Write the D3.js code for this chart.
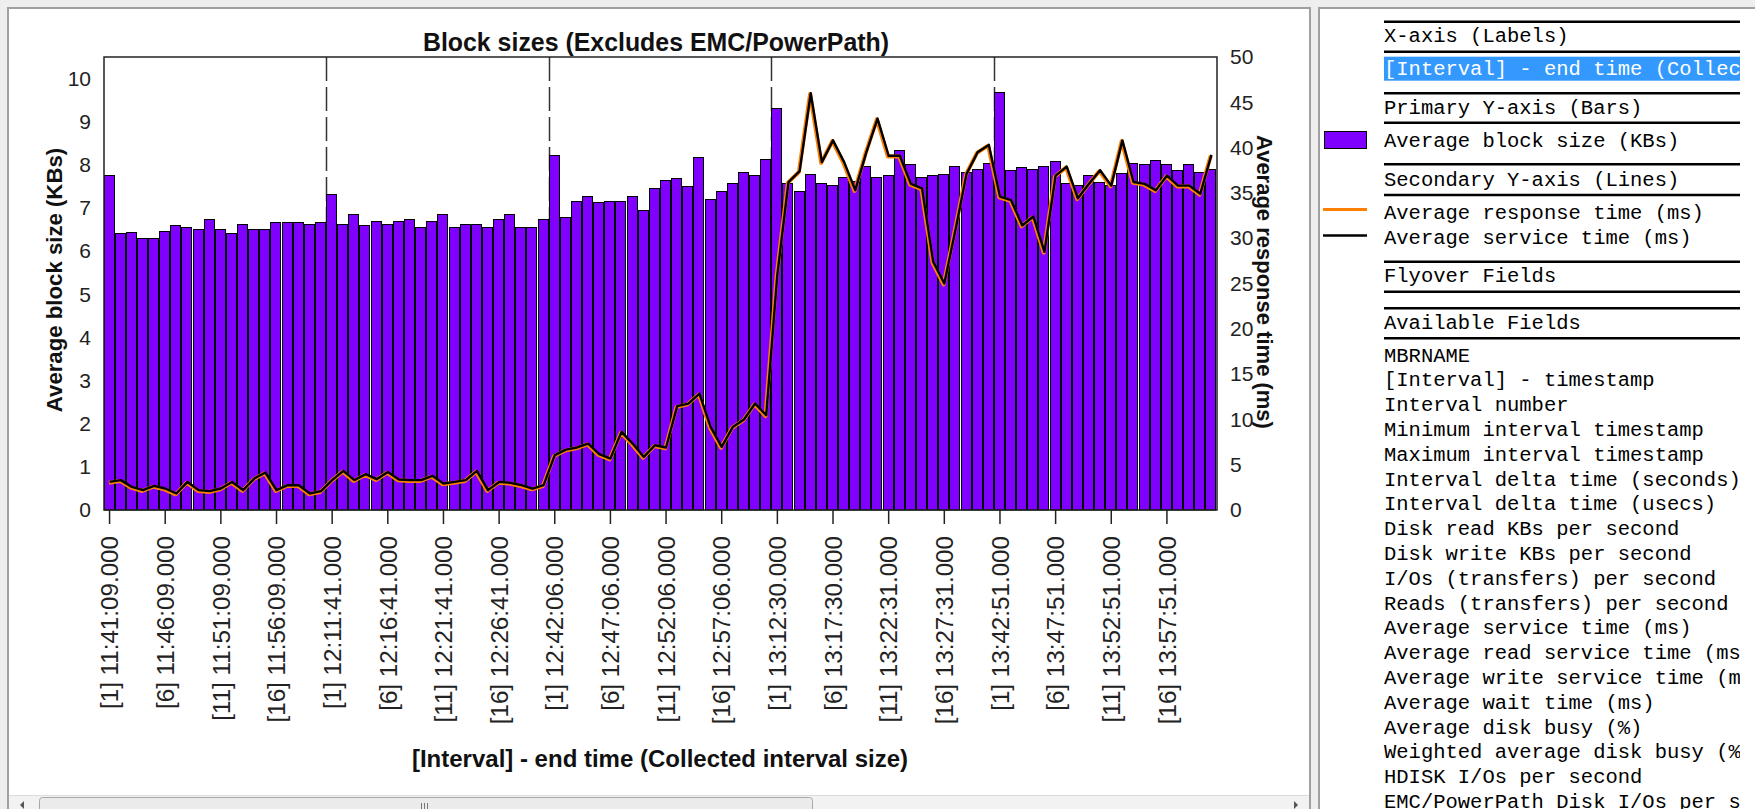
<!DOCTYPE html>
<html>
<head>
<meta charset="utf-8">
<script src="https://cdn.jsdelivr.net/npm/d3@7/dist/d3.min.js"></script>
<style>
  html, body { margin: 0; padding: 0; background: #eeeeee; overflow: hidden; }
  svg { display: block; }
</style>
</head>
<body>
<svg id="view" width="1755" height="809"></svg>
<script>
// ---- data ---------------------------------------------------------------
// Labels shown on every 5th interval: [interval number] end time
const tickLabels = [
  "[1] 11:41:09.000", "[6] 11:46:09.000", "[11] 11:51:09.000", "[16] 11:56:09.000",
  "[1] 12:11:41.000", "[6] 12:16:41.000", "[11] 12:21:41.000", "[16] 12:26:41.000",
  "[1] 12:42:06.000", "[6] 12:47:06.000", "[11] 12:52:06.000", "[16] 12:57:06.000",
  "[1] 13:12:30.000", "[6] 13:17:30.000", "[11] 13:22:31.000", "[16] 13:27:31.000",
  "[1] 13:42:51.000", "[6] 13:47:51.000", "[11] 13:52:51.000", "[16] 13:57:51.000"
];

// First interval of each new collection (dashed separators)
const collectionStarts = [20, 40, 60, 80];

// Average block size (KBs) per interval
const blockSizeKB = [
  7.76, 6.43, 6.45, 6.31, 6.31, 6.46, 6.60, 6.56, 6.52, 6.74,
  6.52, 6.43, 6.64, 6.52, 6.52, 6.67, 6.67, 6.67, 6.64, 6.67,
  7.33, 6.64, 6.86, 6.60, 6.70, 6.64, 6.70, 6.74, 6.56, 6.70,
  6.86, 6.56, 6.63, 6.63, 6.56, 6.74, 6.86, 6.56, 6.56, 6.74,
  8.23, 6.78, 7.17, 7.28, 7.13, 7.17, 7.17, 7.28, 6.96, 7.46,
  7.65, 7.69, 7.51, 8.19, 7.21, 7.39, 7.58, 7.83, 7.76, 8.13,
  9.32, 7.58, 7.39, 7.79, 7.57, 7.54, 7.72, 7.62, 7.98, 7.72,
  7.76, 8.34, 8.01, 7.72, 7.76, 7.79, 7.98, 7.83, 7.91, 8.05,
  9.68, 7.87, 7.94, 7.91, 7.98, 8.08, 7.57, 7.54, 7.76, 7.61,
  7.54, 7.80, 8.05, 8.01, 8.12, 8.01, 7.87, 8.01, 7.83, 7.91
];

// Average response time (ms) per interval
const responseTimeMs = [
  3.1, 3.3, 2.55, 2.19, 2.66, 2.37, 1.82, 3.1, 2.19, 2.08,
  2.37, 3.1, 2.19, 3.47, 4.14, 2.19, 2.74, 2.74, 1.82, 2.08,
  3.3, 4.32, 3.3, 3.95, 3.4, 4.2, 3.36, 3.3, 3.3, 3.77,
  2.92, 3.1, 3.3, 4.32, 2.19, 3.1, 3.0, 2.74, 2.37, 2.74,
  6.05, 6.66, 6.9, 7.33, 6.16, 5.68, 8.62, 7.33, 5.86, 7.15,
  6.9, 11.46, 11.75, 12.85, 9.17, 6.97, 9.17, 9.99, 11.75, 10.46,
  26.0, 36.2, 37.4, 46.0, 38.4, 40.8, 38.4, 35.3, 39.5, 43.2,
  39.1, 39.1, 36.0, 35.5, 27.4, 25.0, 30.9, 37.1, 39.5, 40.3,
  34.6, 34.2, 31.4, 32.4, 28.5, 36.9, 37.9, 34.4, 36.0, 37.5,
  35.8, 40.8, 36.2, 36.0, 35.3, 36.9, 35.8, 35.8, 34.9, 39.2
];

// Average service time (ms) per interval
const serviceTimeMs = [
  3.1, 3.3, 2.55, 2.19, 2.66, 2.37, 1.82, 3.1, 2.19, 2.08,
  2.37, 3.1, 2.19, 3.47, 4.14, 2.19, 2.74, 2.74, 1.82, 2.08,
  3.3, 4.32, 3.3, 3.95, 3.4, 4.2, 3.36, 3.3, 3.3, 3.77,
  2.92, 3.1, 3.3, 4.32, 2.19, 3.1, 3.0, 2.74, 2.37, 2.74,
  6.05, 6.66, 6.9, 7.33, 6.16, 5.68, 8.62, 7.33, 5.86, 7.15,
  6.9, 11.46, 11.75, 12.85, 9.17, 6.97, 9.17, 9.99, 11.75, 10.46,
  26.0, 36.2, 37.4, 46.0, 38.4, 40.8, 38.4, 35.3, 39.5, 43.2,
  39.1, 39.1, 36.0, 35.5, 27.4, 25.0, 30.9, 37.1, 39.5, 40.3,
  34.6, 34.2, 31.4, 32.4, 28.5, 36.9, 37.9, 34.4, 36.0, 37.5,
  35.8, 40.8, 36.2, 36.0, 35.3, 36.9, 35.8, 35.8, 34.9, 39.2
];

const leftTicks = [0, 1, 2, 3, 4, 5, 6, 7, 8, 9, 10];
const rightTicks = [0, 5, 10, 15, 20, 25, 30, 35, 40, 45, 50];

const availableFields = [
  "MBRNAME", "[Interval] - timestamp", "Interval number",
  "Minimum interval timestamp", "Maximum interval timestamp",
  "Interval delta time (seconds)", "Interval delta time (usecs)",
  "Disk read KBs per second", "Disk write KBs per second",
  "I/Os (transfers) per second", "Reads (transfers) per second",
  "Average service time (ms)", "Average read service time (ms)",
  "Average write service time (ms)", "Average wait time (ms)",
  "Average disk busy (%)", "Weighted average disk busy (%)",
  "HDISK I/Os per second", "EMC/PowerPath Disk I/Os per second"
];

// ---- drawing ------------------------------------------------------------
const W = 1755, H = 809;
const BAR_COLOR = "#8000ff", RESP_COLOR = "#ff8000";
const SANS = "'Liberation Sans', Arial, sans-serif";
const MONO = "'Liberation Mono', 'Courier New', monospace";

const svg = d3.select("#view");

// window chrome: grey backdrop with two white panels
svg.append("rect").attr("width", W).attr("height", H).attr("fill", "#eeeeee");
svg.append("rect").attr("x", 8).attr("y", 8).attr("width", 1302).attr("height", H)
  .attr("fill", "#fff").attr("stroke", "#a0a0a0").attr("stroke-width", 2);
svg.append("rect").attr("x", 1319).attr("y", 8).attr("width", W).attr("height", H)
  .attr("fill", "#fff").attr("stroke", "#a0a0a0").attr("stroke-width", 2);

const plot = { left: 104, right: 1217, top: 57, bottom: 510 };

const x = d3.scaleBand()
  .domain(d3.range(blockSizeKB.length))
  .range([plot.left, plot.right])
  .padding(0);
const yLeft = d3.scaleLinear().domain([0, 10.5]).range([plot.bottom, plot.top]);
const yRight = d3.scaleLinear().domain([0, 50]).range([plot.bottom, plot.top]);

const chart = svg.append("g");

// title
chart.append("text")
  .attr("x", 656).attr("y", 51)
  .attr("text-anchor", "middle")
  .attr("font-family", SANS).attr("font-weight", "bold").attr("font-size", 24.9)
  .attr("fill", "#111")
  .text("Block sizes (Excludes EMC/PowerPath)");

// collection separators (behind bars)
chart.append("g").selectAll("line")
  .data(collectionStarts)
  .join("line")
  .attr("x1", d => Math.floor(x(d)) + 0.5)
  .attr("x2", d => Math.floor(x(d)) + 0.5)
  .attr("y1", plot.top).attr("y2", plot.bottom)
  .attr("stroke", "#333").attr("stroke-width", 1.5)
  .attr("stroke-dasharray", "24,6");

// bars
chart.append("g").selectAll("rect")
  .data(blockSizeKB)
  .join("rect")
  .attr("x", (d, i) => Math.floor(x(i)) + 0.5)
  .attr("y", d => Math.round(yLeft(d)) + 0.5)
  .attr("width", 10)
  .attr("height", d => plot.bottom - Math.round(yLeft(d)) - 0.5)
  .attr("fill", BAR_COLOR)
  .attr("stroke", "#000").attr("stroke-width", 1);

// lines on the secondary axis
const lineGen = d3.line()
  .x((d, i) => x(i) + x.bandwidth() / 2)
  .y(d => yRight(d));

chart.append("path")
  .datum(responseTimeMs)
  .attr("d", lineGen)
  .attr("transform", "translate(-0.7,0.8)")
  .attr("fill", "none").attr("stroke", RESP_COLOR)
  .attr("stroke-width", 4).attr("stroke-linejoin", "round");

chart.append("path")
  .datum(serviceTimeMs)
  .attr("d", lineGen)
  .attr("fill", "none").attr("stroke", "#000")
  .attr("stroke-width", 2.4).attr("stroke-linejoin", "round");

// plot frame
chart.append("rect")
  .attr("x", plot.left).attr("y", plot.top)
  .attr("width", plot.right - plot.left).attr("height", plot.bottom - plot.top)
  .attr("fill", "none").attr("stroke", "#222").attr("stroke-width", 1.5);

// left axis
const gLeft = chart.append("g")
  .attr("transform", `translate(${plot.left},0)`)
  .call(d3.axisLeft(yLeft).tickValues(leftTicks).tickSize(0).tickPadding(13));
gLeft.select(".domain").remove();
gLeft.selectAll("text")
  .attr("font-family", SANS).attr("font-size", 21).attr("fill", "#222");

// right axis
const gRight = chart.append("g")
  .attr("transform", `translate(${plot.right},0)`)
  .call(d3.axisRight(yRight).tickValues(rightTicks).tickSize(0).tickPadding(13));
gRight.select(".domain").remove();
gRight.selectAll("text")
  .attr("font-family", SANS).attr("font-size", 21).attr("fill", "#222");

// bottom axis: ticks every 5 intervals, labels rotated
const gBottom = chart.append("g")
  .attr("transform", `translate(0,${plot.bottom})`)
  .call(d3.axisBottom(x)
    .tickValues(d3.range(0, blockSizeKB.length, 5))
    .tickFormat(i => tickLabels[i / 5])
    .tickSize(14));
gBottom.select(".domain").remove();
gBottom.selectAll(".tick line").attr("stroke", "#222").attr("stroke-width", 1.5);
gBottom.selectAll("text")
  .attr("transform", "rotate(-90)")
  .attr("x", -26).attr("y", 0).attr("dy", "0.36em")
  .attr("text-anchor", "end")
  .attr("font-family", SANS).attr("font-size", 24.2).attr("fill", "#222");

// axis titles
chart.append("text")
  .attr("transform", "translate(62,280) rotate(-90)")
  .attr("text-anchor", "middle")
  .attr("font-family", SANS).attr("font-weight", "bold").attr("font-size", 22.2)
  .attr("fill", "#111")
  .text("Average block size (KBs)");

chart.append("text")
  .attr("transform", "translate(1257,282) rotate(90)")
  .attr("text-anchor", "middle")
  .attr("font-family", SANS).attr("font-weight", "bold").attr("font-size", 22)
  .attr("fill", "#111")
  .text("Average response time (ms)");

chart.append("text")
  .attr("x", 660).attr("y", 767)
  .attr("text-anchor", "middle")
  .attr("font-family", SANS).attr("font-weight", "bold").attr("font-size", 24)
  .attr("fill", "#111")
  .text("[Interval] - end time (Collected interval size)");

// horizontal scrollbar of the chart panel
const sb = svg.append("g");
sb.append("rect").attr("x", 9).attr("y", 795).attr("width", 1300).attr("height", 20)
  .attr("fill", "#f2f2f2");
sb.append("line").attr("x1", 9).attr("x2", 1309).attr("y1", 795.5).attr("y2", 795.5)
  .attr("stroke", "#dcdcdc");
sb.append("path").attr("d", "M20,805 L24,801 L24,809 Z").attr("fill", "#555");
sb.append("path").attr("d", "M1298,805 L1294,801 L1294,809 Z").attr("fill", "#555");
sb.append("rect").attr("x", 39.5).attr("y", 797.5).attr("width", 773).attr("height", 20)
  .attr("rx", 3).attr("fill", "#ebebeb").attr("stroke", "#a8a8a8");
[421, 424, 427].forEach(gx =>
  sb.append("line").attr("x1", gx + 0.5).attr("x2", gx + 0.5).attr("y1", 803).attr("y2", 809)
    .attr("stroke", "#777"));

// ---- legend / field panel ----------------------------------------------
svg.append("defs").append("clipPath").attr("id", "panelClip")
  .append("rect").attr("x", 1320).attr("y", 9).attr("width", 420).attr("height", 800);

const lg = svg.append("g").attr("clip-path", "url(#panelClip)");
const TX = 1384;

[21.7, 51.7, 93.3, 122.7, 164.3, 195, 261.7, 291.7, 308.3, 338.3].forEach(ly =>
  lg.append("line").attr("x1", TX).attr("x2", 1760).attr("y1", ly).attr("y2", ly)
    .attr("stroke", "#000").attr("stroke-width", 2.5));

// selected x-axis field
lg.append("rect").attr("x", TX).attr("y", 56.7).attr("width", 400).attr("height", 24)
  .attr("fill", "#3399ff");

const legendText = [
  { t: "X-axis (Labels)", y: 42, c: "#000" },
  { t: "[Interval] - end time (Collected interval size)", y: 75, c: "#fff" },
  { t: "Primary Y-axis (Bars)", y: 114, c: "#000" },
  { t: "Average block size (KBs)", y: 147, c: "#000" },
  { t: "Secondary Y-axis (Lines)", y: 186, c: "#000" },
  { t: "Average response time (ms)", y: 218.5, c: "#000" },
  { t: "Average service time (ms)", y: 244, c: "#000" },
  { t: "Flyover Fields", y: 282, c: "#000" },
  { t: "Available Fields", y: 329, c: "#000" }
];
availableFields.forEach((f, i) => legendText.push({ t: f, y: 361.5 + i * 24.8, c: "#000" }));

lg.selectAll("text.row")
  .data(legendText)
  .join("text")
  .attr("class", "row")
  .attr("x", TX).attr("y", d => d.y)
  .attr("font-family", MONO).attr("font-size", 20.5)
  .attr("fill", d => d.c)
  .attr("xml:space", "preserve")
  .text(d => d.t);

// series swatches
svg.append("rect").attr("x", 1324.5).attr("y", 131.5).attr("width", 42).attr("height", 17)
  .attr("fill", BAR_COLOR).attr("stroke", "#000");
svg.append("line").attr("x1", 1323).attr("x2", 1367).attr("y1", 209.5).attr("y2", 209.5)
  .attr("stroke", RESP_COLOR).attr("stroke-width", 3);
svg.append("line").attr("x1", 1323).attr("x2", 1367).attr("y1", 235.5).attr("y2", 235.5)
  .attr("stroke", "#000").attr("stroke-width", 2.5);
</script>
</body>
</html>
